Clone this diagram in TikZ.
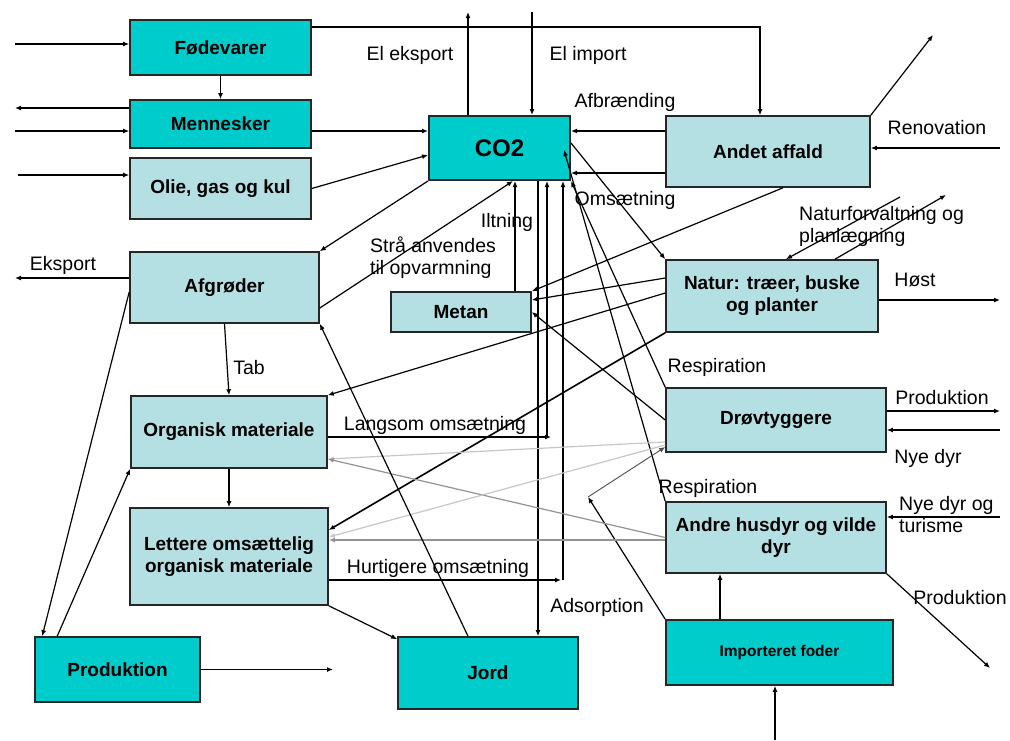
\documentclass[tikz,border=0pt]{standalone}
\usepackage{fontspec}
\setmainfont{Liberation Sans}
\usetikzlibrary{arrows.meta}
\definecolor{teal1}{RGB}{0,204,204}
\definecolor{lysblaa}{RGB}{180,224,228}
\begin{document}
\begin{tikzpicture}[x=1pt,y=-1pt,
    boks/.style={draw=black!85, line width=1.6pt, align=center, inner sep=2pt,
      font=\bfseries\fontsize{19}{22}\selectfont},
    moerk/.style={boks, fill=teal1},
    lys/.style={boks, fill=lysblaa},
    arr/.style={-{Latex[length=6pt,width=5pt]}, line width=1.2pt},
    svag/.style={line width=1pt, gray!45},
    graa/.style={line width=1pt, gray!85},
    tekst/.style={font=\fontsize{19.5}{22}\selectfont, inner sep=1pt, align=left}]
    \useasboundingbox (0,0) rectangle (1010,740);

    \node[moerk, minimum width=181pt, minimum height=55pt] (foede) at (220.5,47.5) {Fødevarer};
    \node[moerk, minimum width=181pt, minimum height=48pt] (menn) at (220.5,124) {Mennesker};
    \node[lys, minimum width=181pt, minimum height=61pt] (olie) at (220.5,188.5) {Olie, gas og kul};
    \node[moerk, minimum width=141pt, minimum height=64pt, line width=2pt,
      font=\bfseries\fontsize{24}{28}\selectfont] (co2) at (499.5,148) {CO2};
    \node[lys, minimum width=204pt, minimum height=71pt] (affald) at (768,151.5) {Andet affald};
    \node[lys, minimum width=189pt, minimum height=71pt] (afgr) at (224.5,287.5) {Afgrøder};
    \node[lys, minimum width=140pt, minimum height=40pt] (metan) at (461,312) {Metan};
    \node[lys, minimum width=212pt, minimum height=72pt] (natur) at (772,296) {Natur: træer, buske\\og planter};
    \node[lys, minimum width=196pt, minimum height=72pt] (org) at (229,432) {Organisk materiale};
    \node[lys, minimum width=198pt, minimum height=97pt] (lett) at (229,556.5) {Lettere omsættelig\\organisk materiale};
    \node[lys, minimum width=220pt, minimum height=64pt] (droev) at (776,420) {Drøvtyggere};
    \node[lys, minimum width=220pt, minimum height=71pt] (andre) at (776,537.5) {Andre husdyr og vilde\\dyr};
    \node[moerk, minimum width=165pt, minimum height=65pt] (prod) at (117.5,669.5) {Produktion};
    \node[moerk, minimum width=180pt, minimum height=72pt] (jord) at (488,673) {Jord};
    \node[moerk, minimum width=227pt, minimum height=65pt,
      font=\bfseries\fontsize{15.5}{18}\selectfont] (imp) at (779.5,652.5) {Importeret foder};

    \coordinate (indF) at (15,44);
    \coordinate (udM) at (15,108);
    \coordinate (indM) at (15,131);
    \coordinate (indO) at (18,175);
    \coordinate (elud) at (468,12);
    \coordinate (elind) at (532,12);
    \coordinate (affud) at (933,35);
    \coordinate (renov) at (1000,148);
    \coordinate (nf1) at (900,197);
    \coordinate (nf2) at (946,195);
    \coordinate (hoest) at (1000,300);
    \coordinate (eksp) at (15,278);
    \coordinate (lang) at (547,437);
    \coordinate (hurt) at (563,580);
    \coordinate (knik) at (588,497);
    \coordinate (prodD) at (1000,411);
    \coordinate (nyeD) at (1000,430);
    \coordinate (nyeA) at (1000,517);
    \coordinate (prodA) at (990,668);
    \coordinate (produd) at (333,669.5);
    \coordinate (impind) at (775,740);

    \draw[arr] (indF) -- (indF -| foede.west);
    \draw[arr] (foede.south) -- (menn.north);
    \draw[arr] ([yshift=20.5pt]foede.east) -| ([xshift=-8pt]affald.north);
    \draw[arr] ([yshift=16pt]menn.west) -- (udM);
    \draw[arr] (indM) -- (indM -| menn.west);
    \draw[arr] ([yshift=-7pt]menn.east) -- ([yshift=-7pt]menn.east -| co2.west);
    \draw[arr] (indO) -- (indO -| olie.west);
    \draw[arr] (olie.east) -- ([yshift=-7pt]co2.west);
    \draw[arr] (elud |- co2.north) -- (elud);
    \draw[arr] (elind) -- (elind |- co2.north);
    \draw[arr] ([yshift=20.5pt]affald.west) -- ([yshift=20.5pt]affald.west -| co2.east);
    \draw[arr] ([yshift=-21.5pt]affald.west) -- ([yshift=-21.5pt]affald.west -| co2.east);
    \draw[arr] ([yshift=5pt]co2.east) -- (natur.north west);
    \draw[arr] (affald.north east) -- (affud);
    \draw[arr] (renov) -- (renov -| affald.east);
    \draw[arr] ([xshift=15pt]affald.south) -- (metan.north east);
    \draw[arr] ([yshift=18pt]natur.west) -- ([yshift=12pt]metan.east);
    \draw[arr] (droev.west) -- (metan.east);
    \draw[arr] ([yshift=3pt]natur.west) -- (org.north east);
    \draw[arr, line width=1.6pt] (natur.south west) -- ([yshift=26.5pt]lett.east);
    \draw[arr] (nf1) -- ([xshift=14pt]natur.north);
    \draw[arr] ([xshift=63pt]natur.north) -- (nf2);
    \draw[arr] ([yshift=-4pt]natur.east) -- (hoest);
    \draw[arr] (co2.south west) -- (afgr.north east);
    \draw[arr] ([yshift=-20.5pt]afgr.east) -- ([xshift=13.5pt]co2.south);
    \draw[arr] ([xshift=54pt]metan.north) -- ([xshift=54pt]metan.north |- co2.south);
    \draw[arr] ([xshift=38.5pt]co2.south) -- ([xshift=38.5pt]co2.south |- jord.north);
    \draw[arr] ([yshift=-5pt]org.east) -- ([xshift=4pt]lang);
    \draw[arr] (lang) -- (lang |- co2.south);
    \draw[arr] ([yshift=-23.5pt]lett.east) -- ([xshift=-2pt]hurt);
    \draw[arr] (hurt) -- (hurt |- co2.south);
    \draw[arr] (droev.north west) -- (co2.south east);
    \draw[arr] (andre.north west) -- ([xshift=-7pt,yshift=-2pt]co2.east);
    \draw[arr] (imp.north west) -- (knik);
    \draw[arr, line width=0.9pt, black!70] (knik) -- ([yshift=-27pt]droev.west);
    \draw[svag, arr] ([yshift=-22pt]droev.west) -- ([yshift=-27pt]org.east);
    \draw[graa, arr] (andre.west) -- ([yshift=-27pt]org.east);
    \draw[svag, arr] ([yshift=-25pt]droev.west) -- ([yshift=19.5pt]lett.east);
    \draw[graa, arr] ([yshift=-2.5pt]andre.west) -- ([yshift=-2.5pt]andre.west -| lett.east);
    \draw[arr] (afgr.south) -- (org.north);
    \draw[arr] (org.south) -- (lett.north);
    \draw[arr] (lett.south east) -- ([yshift=-3pt]jord.north west);
    \draw[arr] ([xshift=-20pt]jord.north) -- (afgr.south east);
    \draw[arr] ([yshift=9.5pt]afgr.west) -- (eksp);
    \draw[arr] ([yshift=-4.5pt]afgr.west) -- ([xshift=8pt]prod.north west);
    \draw[arr] ([xshift=23pt]prod.north west) -- (org.south west);
    \draw[arr] (prod.east) -- (produd);
    \draw[arr] ([xshift=-59.5pt]imp.north) -- ([xshift=-59.5pt]imp.north |- andre.south);
    \draw[arr] (impind) -- (impind |- imp.south);
    \draw[arr] (andre.south east) -- (prodA);
    \draw[arr] ([yshift=9pt]droev.east) -- (prodD);
    \draw[arr] (nyeD) -- (nyeD -| droev.east);
    \draw[arr] (nyeA) -- (nyeA -| andre.east);

    \node[tekst] (t1) at (410,55) {El eksport};
    \node[tekst] (t2) at (588,55) {El import};
    \node[tekst] (t3) at (625,102) {Afbrænding};
    \node[tekst] (t4) at (625,200) {Omsætning};
    \node[tekst] (t5) at (507,222) {Iltning};
    \node[tekst] (t6) at (433,258) {Strå anvendes\\til opvarmning};
    \node[tekst] (t7) at (937,128) {Renovation};
    \node[tekst, anchor=west] (t8) at (798,226) {Naturforvaltning og\\planlægning};
    \node[tekst] (t9) at (915,280) {Høst};
    \node[tekst] (t10) at (63,265) {Eksport};
    \node[tekst] (t11) at (249,368) {Tab};
    \node[tekst] (t12) at (435,425) {Langsom omsætning};
    \node[tekst] (t13) at (438,568) {Hurtigere omsætning};
    \node[tekst] (t14) at (597,607) {Adsorption};
    \node[tekst] (t15) at (717,367) {Respiration};
    \node[tekst] (t16) at (708,488) {Respiration};
    \node[tekst] (t17) at (942,398) {Produktion};
    \node[tekst] (t18) at (928,458) {Nye dyr};
    \node[tekst, anchor=west] (t19) at (898,515) {Nye dyr og\\turisme};
    \node[tekst] (t20) at (960,598) {Produktion};
\end{tikzpicture}
\end{document}
